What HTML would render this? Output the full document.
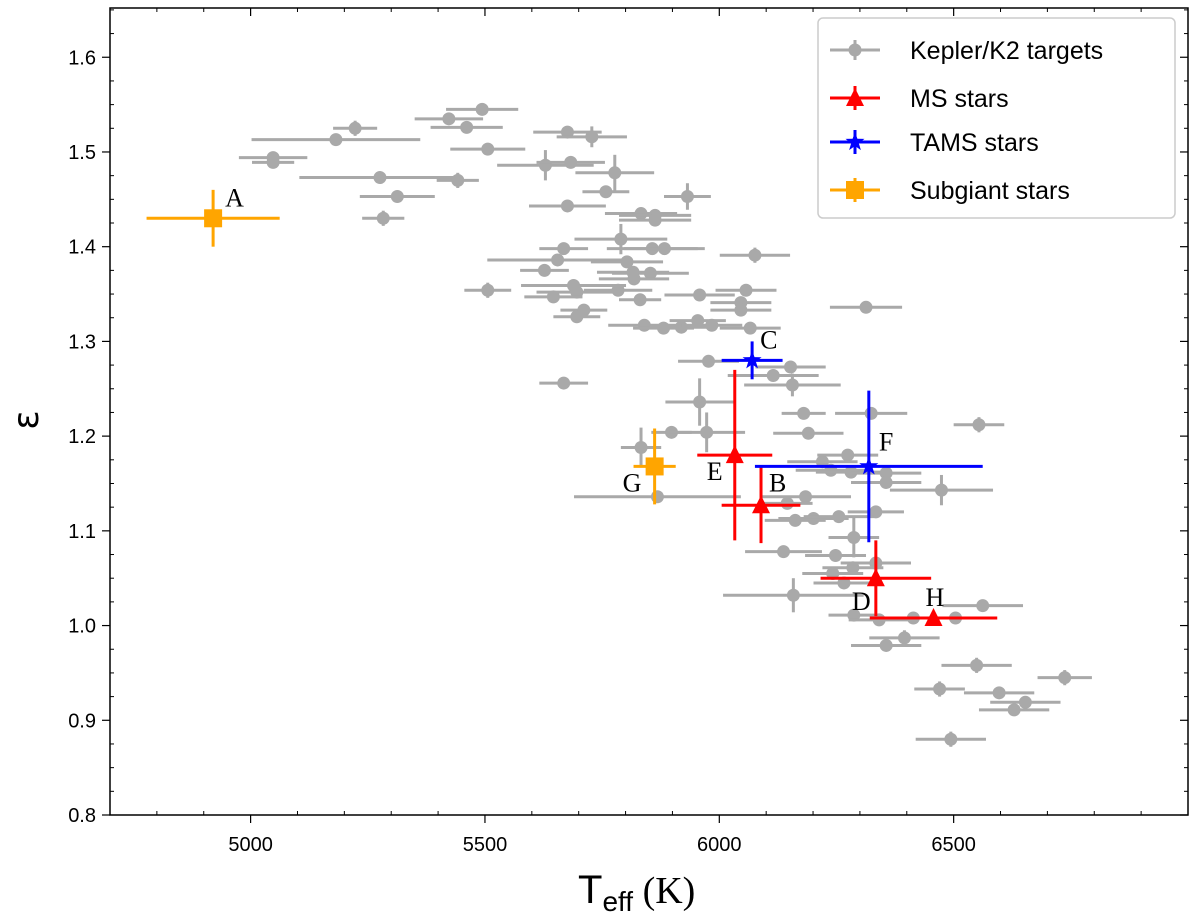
<!DOCTYPE html>
<html><head><meta charset="utf-8"><style>
html,body{margin:0;padding:0;background:#fff;}
svg text{font-family:"Liberation Sans",sans-serif;}
</style></head><body>
<svg id="chart" width="1200" height="919" viewBox="0 0 1200 919" xmlns="http://www.w3.org/2000/svg">
<g id="grid"></g>
<g id="marks"></g>
<g id="axes"></g>
</svg>
<script>
const keplerT=[5494,5423,5461,5223,5182,5048,5048,5676,5728,5506,5629,5683,5777,5758,5276,5442,5313,5932,5676,5283,5833,5863,5863,5790,6076,5668,5655,5627,5857,5883,5803,5816,5853,5818,5506,5689,5696,5646,5784,5831,5711,5696,5958,6057,6046,6046,5954,5840,5881,5919,5984,6066,5668,5977,5958,6313,6115,6152,6156,6180,6324,6554,5898,5973,5833,6190,5868,6220,6274,6238,6281,6356,6356,6474,6184,6145,6334,6162,6201,6255,6287,6137,6248,6334,6285,6242,6266,6158,6287,6341,6414,6504,6562,6356,6395,6549,6737,6470,6597,6653,6629,6494];
const keplerEps=[1.545,1.535,1.526,1.525,1.513,1.494,1.489,1.521,1.516,1.503,1.486,1.489,1.478,1.458,1.473,1.470,1.453,1.453,1.443,1.430,1.435,1.433,1.428,1.408,1.391,1.398,1.386,1.375,1.398,1.398,1.384,1.373,1.372,1.366,1.354,1.359,1.352,1.347,1.354,1.344,1.333,1.326,1.349,1.354,1.341,1.333,1.322,1.317,1.314,1.315,1.317,1.314,1.256,1.279,1.236,1.336,1.264,1.273,1.254,1.224,1.224,1.212,1.204,1.204,1.188,1.203,1.136,1.173,1.180,1.164,1.162,1.161,1.151,1.143,1.136,1.129,1.120,1.111,1.113,1.115,1.093,1.078,1.074,1.066,1.061,1.055,1.045,1.032,1.011,1.006,1.008,1.008,1.021,0.979,0.987,0.958,0.945,0.933,0.929,0.919,0.911,0.880];
const keplerTerr=[77,73,77,47,180,73,45,73,75,80,103,73,84,50,172,45,80,50,82,45,77,77,77,99,75,52,150,52,97,86,77,77,82,75,50,112,86,62,73,45,50,50,75,65,65,65,60,77,65,65,65,65,52,65,73,77,97,75,103,47,77,54,43,82,43,75,178,75,65,75,75,75,75,110,97,54,60,65,75,75,54,82,65,75,65,65,65,150,54,65,65,54,86,75,75,75,58,54,75,75,75,75];
const keplerEpsErr=[0.005,0.005,0.005,0.008,0.005,0.005,0.005,0.005,0.011,0.005,0.016,0.005,0.019,0.005,0.005,0.008,0.005,0.014,0.005,0.008,0.005,0.005,0.005,0.016,0.008,0.005,0.005,0.005,0.005,0.005,0.005,0.005,0.005,0.005,0.008,0.005,0.005,0.005,0.005,0.005,0.005,0.005,0.005,0.005,0.005,0.005,0.005,0.005,0.005,0.005,0.005,0.005,0.005,0.005,0.025,0.005,0.005,0.005,0.012,0.005,0.005,0.008,0.005,0.021,0.021,0.005,0.005,0.005,0.005,0.005,0.005,0.005,0.005,0.016,0.005,0.005,0.005,0.005,0.005,0.005,0.021,0.005,0.005,0.005,0.005,0.005,0.005,0.018,0.005,0.005,0.005,0.005,0.005,0.005,0.008,0.008,0.008,0.008,0.005,0.005,0.005,0.008];

const msLabels=["E","B","D","H"];
const msT=[6033,6089,6334,6457];
const msEps=[1.18,1.127,1.05,1.008];
const msTerr=[80,84,118,136];
const msEpsErr=[0.09,0.04,0.04,0.004];

const tamsLabels=["C","F"];
const tamsT=[6070,6319];
const tamsEps=[1.28,1.168];
const tamsTerr=[65,243];
const tamsEpsErr=[0.02,0.08];

const subLabels=["A","G"];
const subT=[4920,5862];
const subEps=[1.43,1.168];
const subTerr=[142,45];
const subEpsErr=[0.03,0.04];

const xTicks=[5000,5500,6000,6500];
const yTicks=[0.8,0.9,1.0,1.1,1.2,1.3,1.4,1.5,1.6];

const L=110,R=1188,T=8,B=815;
const xMin=4700,xMax=7000,yMin=0.8,yMax=1.652;
function xs(v){return L+(v-xMin)/(xMax-xMin)*(R-L);}
function ys(v){return B-(v-yMin)/(yMax-yMin)*(B-T);}
const NS="http://www.w3.org/2000/svg";
function mk(tag,attrs,parent){const e=document.createElementNS(NS,tag);for(const k in attrs)e.setAttribute(k,attrs[k]);parent.appendChild(e);return e;}
const marks=document.getElementById('marks');
const axes=document.getElementById('axes');

function errbar(g,t,e,te,ee,color,w){
  mk('line',{x1:xs(t-te),x2:xs(t+te),y1:ys(e),y2:ys(e),stroke:color,'stroke-width':w},g);
  mk('line',{x1:xs(t),x2:xs(t),y1:ys(e-ee),y2:ys(e+ee),stroke:color,'stroke-width':w},g);
}
// Kepler points
const gK=mk('g',{},marks);


for(let i=0;i<keplerT.length;i++){
  const g=mk('g',{},gK);
  
  
  errbar(g,keplerT[i],keplerEps[i],keplerTerr[i],keplerEpsErr[i],'#a9a9a9',3);
  mk('circle',{cx:xs(keplerT[i]),cy:ys(keplerEps[i]),r:6.5,fill:'#a9a9a9'},g);
}
function triangle(g,x,y,c){mk('polygon',{points:`${x},${y-10} ${x-9},${y+8} ${x+9},${y+8}`,fill:c},g);}
function star(g,x,y,c){let p=[];for(let k=0;k<10;k++){const r=k%2?4:10;const a=-Math.PI/2+k*Math.PI/5;p.push((x+r*Math.cos(a)).toFixed(1)+','+(y+r*Math.sin(a)).toFixed(1));}mk('polygon',{points:p.join(' '),fill:c},g);}
function square(g,x,y,c){mk('rect',{x:x-9,y:y-9,width:18,height:18,fill:c},g);}
const labelOff={A:[12,-12],B:[8,-14],C:[8,-12],D:[-24,32],E:[-28,25],F:[10,-16],G:[-32,25],H:[-8,-12]};
function series(name,Ts,Es,Te,Ee,labels,color,drawMarker){
  const gs=mk('g',{},marks);
  
  
  for(let i=0;i<Ts.length;i++){
    const g=mk('g',{},gs);
    
    
    errbar(g,Ts[i],Es[i],Te[i],Ee[i],color,3);
    drawMarker(g,xs(Ts[i]),ys(Es[i]),color);
    const o=labelOff[labels[i]];
    const t=mk('text',{x:xs(Ts[i])+o[0],y:ys(Es[i])+o[1],'font-size':26,fill:'#000',style:'font-family:"Liberation Serif",serif'},g);
    t.textContent=labels[i];
    
    
  }
}
series('ms-series',msT,msEps,msTerr,msEpsErr,msLabels,'#ff0000',triangle);
series('tams-series',tamsT,tamsEps,tamsTerr,tamsEpsErr,tamsLabels,'#0000ff',star);
series('subgiant-series',subT,subEps,subTerr,subEpsErr,subLabels,'#ffa500',square);

// frame
const fr=mk('rect',{x:L,y:T,width:R-L,height:B-T,fill:'none',stroke:'#000','stroke-width':1.5},axes);


// x ticks
for(let v=4800;v<=6900;v+=100){
  const x=xs(v);
  const major=v%500===0;
  if(major){
    mk('line',{x1:x,x2:x,y1:B,y2:B+8,stroke:'#000','stroke-width':1.2},axes);
    mk('line',{x1:x,x2:x,y1:T,y2:T+8,stroke:'#000','stroke-width':1.2},axes);
  } else {
    mk('line',{x1:x,x2:x,y1:B,y2:B-4,stroke:'#000','stroke-width':1},axes);
    mk('line',{x1:x,x2:x,y1:T,y2:T+4,stroke:'#000','stroke-width':1},axes);
  }
}
xTicks.forEach(v=>{
  const t=mk('text',{x:xs(v),y:B+36,'font-size':20,'text-anchor':'middle',fill:'#000'},axes);
  t.textContent=v;
  
  
});
for(let k=0;k<=34;k++){
  const v=0.8+k*0.025;const y=ys(v);
  const major=k%4===0;
  if(major){
    mk('line',{x1:L-8,x2:L,y1:y,y2:y,stroke:'#000','stroke-width':1.2},axes);
    mk('line',{x1:R,x2:R-8,y1:y,y2:y,stroke:'#000','stroke-width':1.2},axes);
  } else {
    mk('line',{x1:L,x2:L+4,y1:y,y2:y,stroke:'#000','stroke-width':1},axes);
    mk('line',{x1:R,x2:R-4,y1:y,y2:y,stroke:'#000','stroke-width':1},axes);
  }
}
yTicks.forEach(v=>{
  const t=mk('text',{x:L-14,y:ys(v)+7,'font-size':20,'text-anchor':'end',fill:'#000'},axes);
  t.textContent=v.toFixed(1);
  
  
});
</script>
<svg style="position:absolute;left:0;top:0" width="1200" height="919" xmlns="http://www.w3.org/2000/svg">
<text x="38" y="420" font-size="36" text-anchor="middle" transform="rotate(-90 38 420)" style="font-family:'DejaVu Sans',sans-serif">ε</text>
<g>
<text x="578" y="903" font-size="40" style="font-family:'Liberation Sans',sans-serif">T<tspan font-size="28" dy="8">eff</tspan><tspan dy="-8" font-size="38" style="font-family:'Liberation Serif',serif"> (K)</tspan></text>
</g>
<g>
<rect x="818" y="18" width="357" height="200" rx="5" fill="#fff" stroke="#ccc" stroke-width="1.5"/>
<g>
<line x1="830" x2="880" y1="50" y2="50" stroke="#a9a9a9" stroke-width="3"/><line x1="855" x2="855" y1="40" y2="60" stroke="#a9a9a9" stroke-width="3"/><circle cx="855" cy="50" r="6.5" fill="#a9a9a9"/>
<text x="910" y="59" font-size="25">Kepler/K2 targets</text></g>
<g>
<line x1="830" x2="880" y1="98" y2="98" stroke="#f00" stroke-width="3"/><line x1="855" x2="855" y1="86" y2="110" stroke="#f00" stroke-width="3"/><polygon points="855,88 846,106 864,106" fill="#f00"/>
<text x="910" y="107" font-size="25">MS stars</text></g>
<g>
<line x1="830" x2="880" y1="142" y2="142" stroke="#00f" stroke-width="3"/><line x1="855" x2="855" y1="130" y2="154" stroke="#00f" stroke-width="3"/><polygon points="855,132 857.4,138.8 864.5,138.9 858.8,143.2 860.9,150.1 855,146 849.1,150.1 851.2,143.2 845.5,138.9 852.6,138.8" fill="#00f"/>
<text x="910" y="151" font-size="25">TAMS stars</text></g>
<g>
<line x1="830" x2="880" y1="190" y2="190" stroke="#ffa500" stroke-width="3"/><line x1="855" x2="855" y1="178" y2="202" stroke="#ffa500" stroke-width="3"/><rect x="846" y="181" width="18" height="18" fill="#ffa500"/>
<text x="910" y="199" font-size="25">Subgiant stars</text></g>
</g>
</svg>
</body></html>
